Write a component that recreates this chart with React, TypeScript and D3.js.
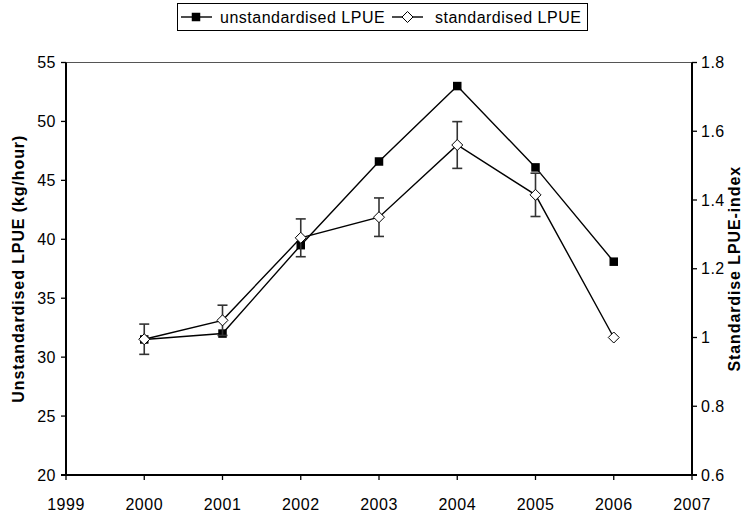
import React from "react";
import * as d3 from "d3";

// Survey years and catch-rate series
const years = [2000, 2001, 2002, 2003, 2004, 2005, 2006];
const unstandardisedLPUE = [31.5, 32.0, 39.5, 46.6, 53.0, 46.1, 38.1];
const standardisedLPUE = [0.995, 1.05, 1.29, 1.35, 1.56, 1.415, 1.0];
const standardisedError = [0.044, 0.044, 0.055, 0.056, 0.068, 0.063, 0];

const xTicks = [1999, 2000, 2001, 2002, 2003, 2004, 2005, 2006, 2007];
const leftTicks = [20, 25, 30, 35, 40, 45, 50, 55];
const rightTicks = [0.6, 0.8, 1.0, 1.2, 1.4, 1.6, 1.8];

const W = 754;
const H = 514;
const plot = { left: 66, right: 692, top: 62.5, bottom: 475 };
const FONT = "'Liberation Sans', Arial, sans-serif";

export default function App() {
  const x = d3.scaleLinear().domain([1999, 2007]).range([plot.left, plot.right]);
  const yL = d3.scaleLinear().domain([20, 55]).range([plot.bottom, plot.top]);
  const yR = d3.scaleLinear().domain([0.6, 1.8]).range([plot.bottom, plot.top]);

  const lineL = d3
    .line<number>()
    .x((_, i) => x(years[i]))
    .y((d) => yL(d));
  const lineR = d3
    .line<number>()
    .x((_, i) => x(years[i]))
    .y((d) => yR(d));

  const sq = 8.5;
  const dm = 5.5;
  const diamond = (cx: number, cy: number) =>
    `M${cx},${cy - dm}L${cx + dm},${cy}L${cx},${cy + dm}L${cx - dm},${cy}Z`;

  const tickLen = 5;
  const fmtR = (v: number) => (Math.abs(v - 1) < 1e-9 ? "1" : d3.format(".1f")(v));

  return (
    <svg
      width={W}
      height={H}
      style={{ position: "absolute", left: 0, top: 0, background: "#fff" }}
      fontFamily={FONT}
    >
      <rect x={0} y={0} width={W} height={H} fill="#fff" />

      {/* legend */}
      <g>
        <rect x={177.5} y={3.5} width={410} height={27} fill="#fff" stroke="#000" strokeWidth={1} />
        <line x1={181} x2={212} y1={17} y2={17} stroke="#000" strokeWidth={1.4} />
        <rect x={196 - sq / 2} y={17 - sq / 2} width={sq} height={sq} fill="#000" />
        <text x={220} y={22.5} fontSize={16} letterSpacing={0.5}>
          unstandardised LPUE
        </text>
        <line x1={392} x2={423} y1={17} y2={17} stroke="#000" strokeWidth={1.4} />
        <path d={diamond(407.5, 17)} fill="#fff" stroke="#000" strokeWidth={1} />
        <text x={435} y={22.5} fontSize={16} letterSpacing={0.5}>
          standardised LPUE
        </text>
      </g>

      {/* plot frame */}
      <line x1={plot.left} x2={plot.right} y1={plot.top} y2={plot.top} stroke="#555" strokeWidth={1} />
      <line x1={plot.left} x2={plot.left} y1={plot.top} y2={plot.bottom} stroke="#000" strokeWidth={2} />
      <line x1={plot.right} x2={plot.right} y1={plot.top} y2={plot.bottom} stroke="#000" strokeWidth={2} />
      <line x1={plot.left - tickLen} x2={plot.right + tickLen} y1={plot.bottom} y2={plot.bottom} stroke="#000" strokeWidth={2} />

      {/* bottom axis */}
      {xTicks.map((t) => (
        <g key={`x${t}`}>
          <line x1={x(t)} x2={x(t)} y1={plot.bottom} y2={plot.bottom + tickLen} stroke="#000" strokeWidth={1.3} />
          <text x={x(t)} y={510} fontSize={16} textAnchor="middle" letterSpacing={0.5}>
            {t}
          </text>
        </g>
      ))}

      {/* left axis */}
      {leftTicks.map((t) => (
        <g key={`l${t}`}>
          <line x1={plot.left - tickLen} x2={plot.left} y1={yL(t)} y2={yL(t)} stroke="#000" strokeWidth={1.3} />
          <text x={56} y={yL(t) + 5.5} fontSize={16} textAnchor="end" letterSpacing={0.5}>
            {t}
          </text>
        </g>
      ))}
      <text
        transform={`translate(24,${(plot.top + plot.bottom) / 2}) rotate(-90)`}
        fontSize={16}
        fontWeight="bold"
        textAnchor="middle"
        letterSpacing={0.9}
      >
        Unstandardised LPUE (kg/hour)
      </text>

      {/* right axis */}
      {rightTicks.map((t) => (
        <g key={`r${t}`}>
          <line x1={plot.right} x2={plot.right + tickLen} y1={yR(t)} y2={yR(t)} stroke="#000" strokeWidth={1.3} />
          <text x={701} y={yR(t) + 5.5} fontSize={16} textAnchor="start" letterSpacing={0.5}>
            {fmtR(t)}
          </text>
        </g>
      ))}
      <text
        transform={`translate(740,${(plot.top + plot.bottom) / 2}) rotate(-90)`}
        fontSize={16}
        fontWeight="bold"
        textAnchor="middle"
        letterSpacing={0.9}
      >
        Standardise LPUE-index
      </text>

      {/* unstandardised series */}
      <path d={lineL(unstandardisedLPUE) ?? ""} fill="none" stroke="#000" strokeWidth={1.4} />
      {unstandardisedLPUE.map((v, i) => (
        <rect
          key={`s${i}`}
          x={x(years[i]) - sq / 2}
          y={yL(v) - sq / 2}
          width={sq}
          height={sq}
          fill="#000"
        />
      ))}

      {/* standardised series with error bars */}
      {standardisedLPUE.map((v, i) =>
        standardisedError[i] > 0 ? (
          <g key={`e${i}`} stroke="#333" strokeWidth={1.6}>
            <line
              x1={x(years[i])}
              x2={x(years[i])}
              y1={yR(v + standardisedError[i])}
              y2={yR(v - standardisedError[i])}
            />
            <line
              x1={x(years[i]) - 5}
              x2={x(years[i]) + 5}
              y1={yR(v + standardisedError[i])}
              y2={yR(v + standardisedError[i])}
            />
            <line
              x1={x(years[i]) - 5}
              x2={x(years[i]) + 5}
              y1={yR(v - standardisedError[i])}
              y2={yR(v - standardisedError[i])}
            />
          </g>
        ) : null
      )}
      <path d={lineR(standardisedLPUE) ?? ""} fill="none" stroke="#000" strokeWidth={1.4} />
      {standardisedLPUE.map((v, i) => (
        <path key={`d${i}`} d={diamond(x(years[i]), yR(v))} fill="#fff" stroke="#000" strokeWidth={1} />
      ))}
    </svg>
  );
}
